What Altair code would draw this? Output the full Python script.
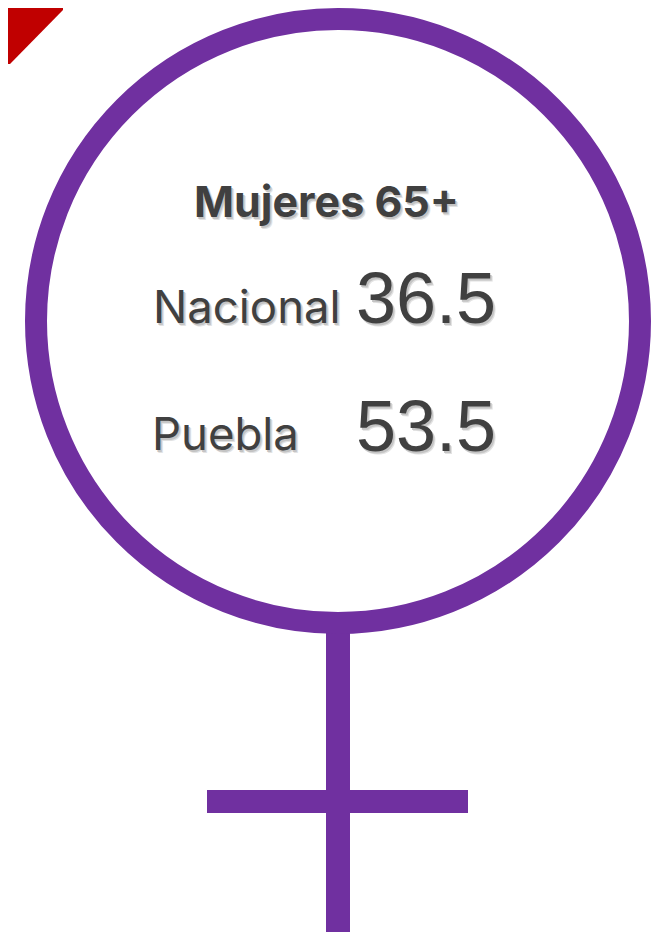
import altair as alt
import pandas as pd

TITLE = "Mujeres 65+"
REGIONS = ["Nacional", "Puebla"]
VALUES = ["36.5", "53.5"]

PURPLE = "#7030A0"
RED = "#C00000"
INK = "#404040"
FONT = "Inter"
NUM_FONT = "Liberation Sans"
OX, OY = 8, 8  # page margin


def one(**row):
    return alt.Chart(pd.DataFrame([row]))


def rect(x0, x1, y0, y1, color):
    return one(a=0).mark_rect(color=color).encode(
        x=alt.value(x0 - OX), x2=alt.value(x1 - OX),
        y=alt.value(y0 - OY), y2=alt.value(y1 - OY),
    )


def text(s, x, y, size, weight="normal", font=FONT):
    out = []
    for dx, dy, col in [(2.5, 3, "#e2e2e2"), (1.5, 2, "#c4c4c4"), (0, 0, INK)]:
        out.append(
            one(t=s).mark_text(
                font=font, fontSize=size, fontWeight=weight, color=col,
                align="left", baseline="alphabetic",
            ).encode(
                x=alt.value(x - OX + dx), y=alt.value(y - OY + dy),
                text="t:N",
            )
        )
    return out


corner = alt.Chart(pd.DataFrame({
    "x": [0, 2, 55], "top": [0, 0, 0], "bottom": [56, 56, 2],
})).mark_area(color=RED).encode(
    x=alt.X("x:Q", scale=None, axis=None),
    y=alt.Y("top:Q", scale=None, axis=None),
    y2="bottom:Q",
)

ring = one(a=0).mark_point(
    shape="circle", filled=False, color=PURPLE, strokeWidth=22, opacity=1,
    size=604 ** 2,
).encode(x=alt.value(338 - OX), y=alt.value(321 - OY))

layers = [
    corner,
    rect(326, 350, 630, 932, PURPLE),
    rect(207, 468, 790, 813, PURPLE),
    ring,
]
layers += text(TITLE, 194, 217, 43, "bold")
layers += text(REGIONS[0], 153, 323, 45.5)
layers += text(VALUES[0], 356, 323, 72, font=NUM_FONT)
layers += text(REGIONS[1], 152, 450, 45.5)
layers += text(VALUES[1], 356, 451, 72, font=NUM_FONT)

chart = alt.layer(*layers).properties(
    width=651, height=925, padding=0,
    autosize=alt.AutoSizeParams(type="none"),
).configure_view(stroke=None)

chart.save("out.html", embed_options={"renderer": "svg", "actions": False})
